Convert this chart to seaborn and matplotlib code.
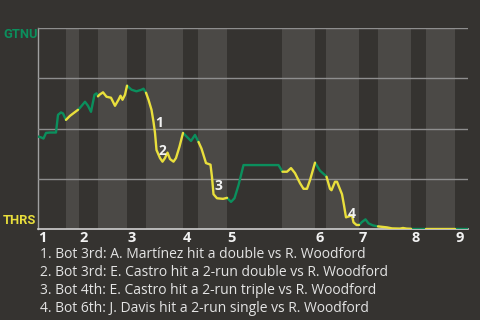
import numpy as np
import pandas as pd
import matplotlib
matplotlib.use("Agg")
import matplotlib.pyplot as plt
import seaborn as sns

# ---- data (game progress units, GTNU win probability) ----
progress = [0, 3, 5.5, 8, 12, 18, 20, 23, 25, 28, 32, 36, 40, 42, 47, 50, 53, 56.5, 58.5, 60,
            61.5, 65, 68.5, 73, 77, 80.5, 82.5, 84.5, 87, 89, 93.5, 98.5, 103.5, 105.5, 108,
            110.5, 113.5, 115.5, 117, 118.5, 122, 124.5, 127, 129.5, 132, 135.5, 138, 141.5,
            145, 149, 153, 157, 160.5, 163.5, 168, 172.5, 174, 175.5, 179, 185, 189, 193,
            196.5, 200.5, 205.5, 222, 240.5, 244.5, 249, 253, 257, 262, 265.5, 269, 272, 277,
            282, 287, 288.5, 292, 293.5, 297, 299, 301, 304, 306, 308, 311, 314, 315.5, 318.5,
            321, 324, 327.5, 330.5, 335, 340, 349, 354, 362, 365, 368.5, 373, 388, 417, 429.5]
gtnu_wp = [0.460, 0.456, 0.450, 0.478, 0.480, 0.480, 0.568, 0.580, 0.575, 0.543, 0.563, 0.578,
           0.593, 0.603, 0.633, 0.613, 0.583, 0.668, 0.675, 0.660, 0.668, 0.680, 0.658, 0.653,
           0.613, 0.643, 0.663, 0.643, 0.668, 0.713, 0.693, 0.685, 0.693, 0.698, 0.678, 0.643,
           0.593, 0.533, 0.478, 0.393, 0.353, 0.335, 0.353, 0.380, 0.348, 0.335, 0.353, 0.410,
           0.478, 0.458, 0.438, 0.468, 0.433, 0.400, 0.328, 0.320, 0.258, 0.173, 0.153, 0.150,
           0.155, 0.135, 0.153, 0.218, 0.318, 0.318, 0.318, 0.285, 0.285, 0.303, 0.278, 0.228,
           0.200, 0.200, 0.243, 0.330, 0.290, 0.268, 0.260, 0.200, 0.193, 0.235, 0.235, 0.210,
           0.173, 0.118, 0.058, 0.063, 0.068, 0.033, 0.020, 0.020, 0.035, 0.048, 0.028, 0.018,
           0.013, 0.008, 0.003, 0.002, 0.005, 0.002, 0.001, 0.001, 0.001, 0.001]
inning_start = [0, 41, 89, 145, 189, 277, 321, 373, 417]
bottom_start = [28, 60, 108, 160, 244, 288, 340, 388]
game_end = 430
inning_labels = ["1", "2", "3", "4", "5", "6", "7", "8", "9"]
away_team, home_team = "GTNU", "THRS"
ann_labels = ["1", "2", "3", "4"]
ann_x = [117, 120.3, 176.3, 309.5]
ann_y = [0.526, 0.390, 0.213, 0.074]
notes = [
    "1. Bot 3rd: A. Martínez hit a double vs R. Woodford",
    "2. Bot 3rd: E. Castro hit a 2-run double vs R. Woodford",
    "3. Bot 4th: E. Castro hit a 2-run triple vs R. Woodford",
    "4. Bot 6th: J. Davis hit a 2-run single vs R. Woodford",
]

# ---- style ----
bg = "#353330"
band = "#4b4946"
green = "#0b8f5d"
yellow = "#e9df3c"
team_colors = {away_team: green, home_team: yellow}

sns.set_theme(style="dark", rc={"figure.facecolor": bg, "axes.facecolor": bg,
                                "savefig.facecolor": bg})
plt.rcParams["font.family"] = ["Open Sans", "DejaVu Sans"]

# build coloured runs: a segment is coloured by the team at bat
half_edges = sorted(inning_start + bottom_start)
def batting(xm):
    idx = np.searchsorted(half_edges, xm, side="right") - 1
    return away_team if idx % 2 == 0 else home_team

rows, run, prev = [], 0, None
for i in range(len(progress) - 1):
    team = batting((progress[i] + progress[i + 1]) / 2)
    if team != prev:
        run += 1
        rows.append((run, team, progress[i], gtnu_wp[i]))
    rows.append((run, team, progress[i + 1], gtnu_wp[i + 1]))
    prev = team
df = pd.DataFrame(rows, columns=["run", "team", "x", "wp"])

fig = plt.figure(figsize=(4.8, 3.2), dpi=100)
ax = fig.add_axes([38 / 480, 1 - 229 / 320, 430 / 480, 201 / 320])

ends = inning_start[1:] + [game_end]
for b, e in zip(bottom_start, ends):
    ax.axvspan(b, e, color=band, lw=0, zorder=0)

ax.set_xlim(0, game_end)
ax.set_ylim(0, 1)
ax.set_yticks([0.25, 0.5, 0.75, 1.0])
ax.set_yticklabels([])
ax.yaxis.grid(True, color="#8e8e8e", lw=1.0, zorder=1)
ax.xaxis.grid(False)
ax.set_axisbelow(False)

sns.lineplot(data=df, x="x", y="wp", hue="team", units="run", estimator=None,
             palette=team_colors, lw=1.7, legend=False, sort=False, ax=ax, zorder=3)

for lab, x, y in zip(ann_labels, ann_x, ann_y):
    ax.text(x, y, lab, color="#f2f2f2", fontsize=10, fontweight="bold",
            ha="left", va="center", zorder=4)

ax.set_xticks(inning_start)
ax.set_xticklabels(inning_labels, color="#f2f2f2", fontsize=10.5, fontweight="bold")
for t in ax.get_xticklabels():
    t.set_ha("left")
ax.tick_params(axis="x", length=0, pad=1.5)
ax.tick_params(axis="y", length=0)
ax.set_xlabel("")
ax.set_ylabel("")

for s in ["top", "right"]:
    ax.spines[s].set_visible(False)
ax.spines["left"].set_color("#a0a0a0")
ax.spines["left"].set_linewidth(1.0)
ax.spines["bottom"].set_color("#cfcfcf")
ax.spines["bottom"].set_linewidth(1.2)

lab_font = ["Roboto", "DejaVu Sans"]
fig.text(3 / 480, 1 - 35 / 320, away_team, color=green, fontsize=9.3,
         fontweight="bold", ha="left", va="center", family=lab_font)
fig.text(3 / 480, 1 - 220.5 / 320, home_team, color=yellow, fontsize=9.3,
         fontweight="bold", ha="left", va="center", family=lab_font)

for i, note in enumerate(notes):
    fig.text(40 / 480, 1 - (254 + 18 * i) / 320, note, color="#e4e4e4",
             fontsize=10, ha="left", va="center")

fig.savefig("out.png", dpi=100)
